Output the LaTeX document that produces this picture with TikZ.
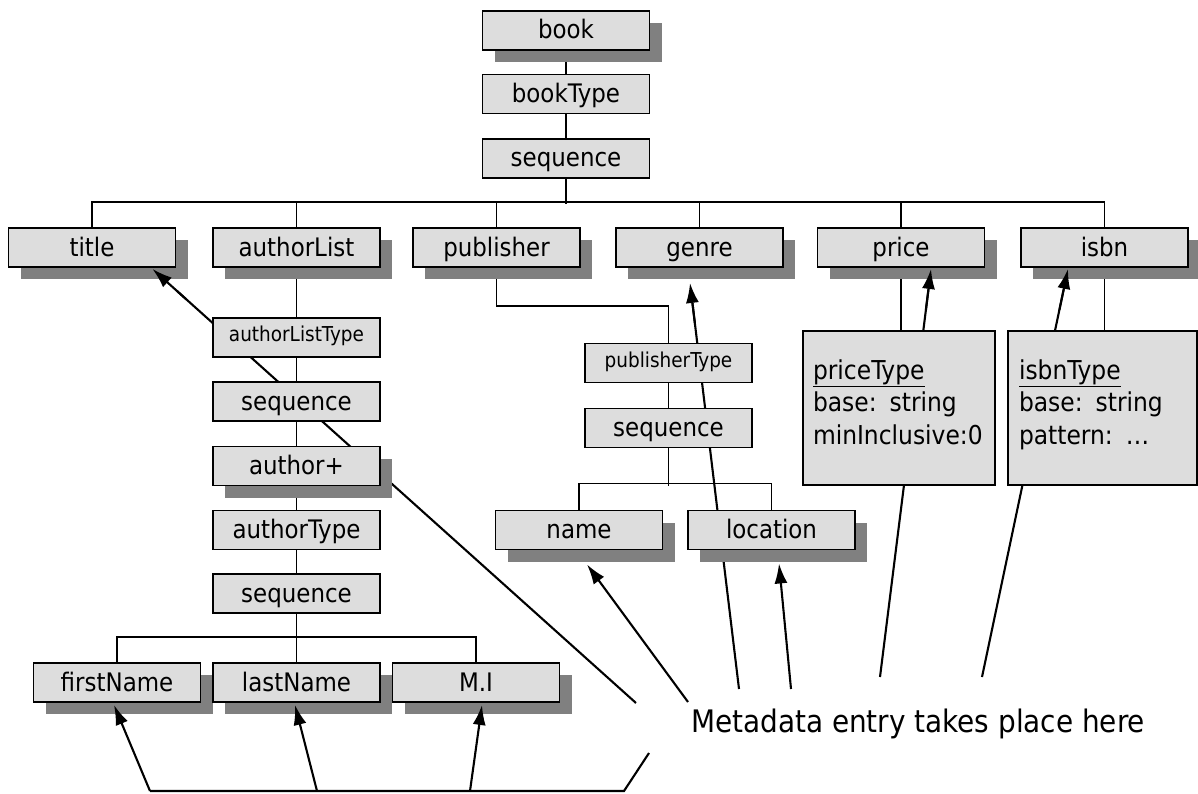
\documentclass[tikz,border=0pt]{standalone}
\usepackage{fontspec}
\setmainfont{DejaVu Sans Condensed}
\usetikzlibrary{arrows.meta,shadows,backgrounds,calc}
\definecolor{boxfill}{HTML}{DDDDDD}
\definecolor{shadowgray}{HTML}{808080}
\tikzset{
  box/.style={draw=black, line width=1.9pt, fill=boxfill, minimum width=167pt, minimum height=39pt,
    inner sep=0pt, font=\fontsize{25.5}{30}\selectfont, text height=18pt, text depth=1pt},
  sbox/.style={box, general shadow={fill=shadowgray, draw=none, shadow xshift=12pt, shadow yshift=-12pt}},
  smallbox/.style={box, font=\fontsize{20.5}{24}\selectfont, text height=15pt, text depth=6.6pt},
  typebox/.style={draw=black, line width=1.9pt, fill=boxfill, minimum height=154pt, inner sep=0pt,
    align=left, font=\fontsize{26}{32.5}\selectfont},
  conn/.style={line width=1.5pt},
  ln/.style={line width=2.1pt},
  arr/.style={line width=2.1pt, -{Latex[length=20pt,width=13pt]}},
}
\begin{document}
\begin{tikzpicture}[x=1pt,y=-1pt]
\useasboundingbox (0,0) rectangle (1198,794);
% nodes
\node[sbox] (book) at (566,30.5) {book};
\node[box] (bookType) at (566,94) {bookType};
\node[box] (seq0) at (566,158.5) {sequence};
\node[sbox] (title) at (92,247.5) {title};
\node[sbox] (authorList) at (296.5,247.5) {authorList};
\node[sbox] (publisher) at (496.5,247.5) {publisher};
\node[sbox] (genre) at (699.5,247.5) {genre};
\node[sbox] (price) at (901,247.5) {price};
\node[sbox] (isbn) at (1104.5,247.5) {isbn};
\node[smallbox] (alType) at (296.5,337.5) {authorListType};
\node[box] (seq1) at (296.5,401.5) {sequence};
\node[sbox] (author) at (296.5,466) {author+};
\node[box] (authorType) at (296.5,530) {authorType};
\node[box] (seq2) at (296.5,593.5) {sequence};
\node[sbox] (firstName) at (117,682.5) {firstName};
\node[sbox] (lastName) at (296.5,682.5) {lastName};
\node[sbox] (mi) at (476,682.5) {M.I};
\node[smallbox] (pubType) at (668.5,363) {publisherType};
\node[box] (seq3) at (668.5,428) {sequence};
\node[sbox] (name) at (579,530) {name};
\node[sbox] (location) at (771.5,530) {location};
\node[typebox, minimum width=192pt, text width=172pt] (priceType) at (899,408)
  {\underline{priceType}\\base: string\\minInclusive:0\\[-20pt]~};
\node[typebox, minimum width=189pt, text width=167pt] (isbnType) at (1102.5,408)
  {\underline{isbnType}\\base: string\\pattern: …\\[-20pt]~};
\node[anchor=base west, font=\fontsize{31}{36}\selectfont, inner sep=0pt] (meta) at (691,732)
  {Metadata entry takes place here};

% free ends and tips
\coordinate (mTitle) at (636,703);
\coordinate (tTitle) at ([xshift=-24pt,yshift=-1pt]title.south east);
\coordinate (mGenre) at (739,689);
\coordinate (tGenre) at ([xshift=-9.5pt,yshift=-15pt]genre.south);
\coordinate (mPrice) at (880,677);
\coordinate (tPrice) at ([xshift=30pt,yshift=-1pt]price.south);
\coordinate (mIsbn) at (982,677);
\coordinate (tIsbn) at ([xshift=-36.5pt,yshift=-1pt]isbn.south);
\coordinate (mName) at (688,702);
\coordinate (tName) at ([xshift=8pt,yshift=-14pt]name.south);
\coordinate (mLoc) at (791,689);
\coordinate (tLoc) at ([xshift=7.5pt,yshift=-13pt]location.south);
\coordinate (b0) at (649,753);
\coordinate (b1) at (624,791);
\coordinate (fA) at (150,791);
\coordinate (lA) at (317,791);
\coordinate (mA) at (470,791);
\coordinate (tFirst) at ([xshift=-3pt,yshift=-2pt]firstName.south);
\coordinate (tLast) at ([xshift=-1.5pt,yshift=-2pt]lastName.south);
\coordinate (tMi) at ([xshift=6pt,yshift=-2pt]mi.south);

\begin{pgfonlayer}{background}
  \draw[conn] (book) -- (bookType) -- (seq0);
  \draw[conn] (seq0.south) -- ++(0,25);
  \draw[conn] (title.north) -- ++(0,-25) -| (isbn.north);
  \foreach \n in {authorList,publisher,genre,price} \draw[conn] (\n.north) -- ++(0,-25);
  \draw[conn] (authorList) -- (alType) -- (seq1) -- (author) -- (authorType) -- (seq2) -- (lastName);
  \draw[conn] (firstName.north) -- ++(0,-25) -| (mi.north);
  \draw[conn] (publisher.south) -- ++(0,38) -| (pubType.north);
  \draw[conn] (pubType) -- (seq3);
  \draw[conn] (seq3.south) -- ++(0,38);
  \draw[conn] (name.north) -- ++(0,-26) -| (location.north);
  \draw[conn] (price.south) -- (price.south |- priceType.north);
  \draw[conn] (isbn.south) -- (isbn.south |- isbnType.north);
  % long lines hidden behind boxes
  \draw[ln] (mTitle) -- ($(mTitle)!0.95!(tTitle)$);
  \draw[ln] (mGenre) -- ($(mGenre)!0.95!(tGenre)$);
  \draw[ln] (mPrice) -- ($(mPrice)!0.95!(tPrice)$);
  \draw[ln] (mIsbn) -- ($(mIsbn)!0.95!(tIsbn)$);
\end{pgfonlayer}

% arrow heads over shadows
\draw[arr] ($(mTitle)!0.93!(tTitle)$) -- (tTitle);
\draw[arr] ($(mGenre)!0.9!(tGenre)$) -- (tGenre);
\draw[arr] ($(mPrice)!0.9!(tPrice)$) -- (tPrice);
\draw[arr] ($(mIsbn)!0.9!(tIsbn)$) -- (tIsbn);
\draw[arr] (mName) -- (tName);
\draw[arr] (mLoc) -- (tLoc);
\draw[ln] (b0) -- (b1) -- (fA);
\draw[arr] (fA) -- (tFirst);
\draw[arr] (lA) -- (tLast);
\draw[arr] (mA) -- (tMi);
\end{tikzpicture}
\end{document}
